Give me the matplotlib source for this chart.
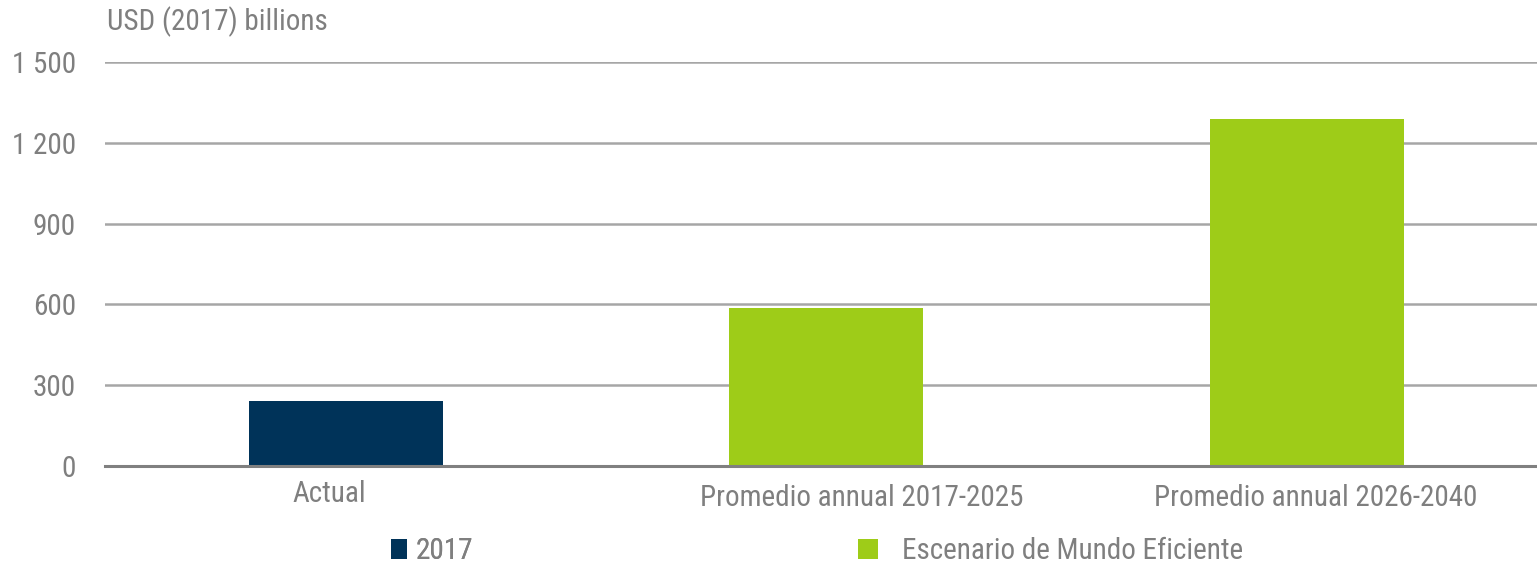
import matplotlib
matplotlib.use("Agg")
import matplotlib.pyplot as plt
import matplotlib.transforms as mtransforms
from matplotlib import font_manager
from matplotlib.patches import Patch

categories = ["Actual", "Promedio annual 2017-2025", "Promedio annual 2026-2040"]
values = [240, 585, 1287]
series = ["2017", "Escenario de Mundo Eficiente", "Escenario de Mundo Eficiente"]
yticks = [0, 300, 600, 900, 1200, 1500]

navy = "#003359"
green = "#9ecc18"
grey_text = "#7f7f7f"
bar_colors = [navy, green, green]

available = {f.name for f in font_manager.fontManager.ttflist}
font = "DejaVu Sans"
for name in ["Liberation Sans Narrow", "Roboto Condensed", "Liberation Sans"]:
    if name in available:
        font = name
        break
plt.rcParams["font.family"] = [font, "DejaVu Sans"]

W, H = 1537, 564
fig = plt.figure(figsize=(W / 100, H / 100), dpi=100)
ax = fig.add_axes([105 / W, (H - 466) / H, 1 - 105 / W, (466 - 62) / H])

x = list(range(len(categories)))
ax.bar(x, values, width=0.404, color=bar_colors, zorder=3)

ax.set_xlim(-0.5016, 2.479)
ax.set_ylim(0, 1500)
ax.set_yticks(yticks)
ax.set_yticklabels([f"{v:,}".replace(",", " ") for v in yticks])
ax.grid(axis="y", color="#a6a6a6", linewidth=1.8, zorder=0)
ax.set_axisbelow(True)
for s in ["top", "left", "right"]:
    ax.spines[s].set_visible(False)
ax.spines["bottom"].set_color("#808080")
ax.spines["bottom"].set_linewidth(2.2)
ax.spines["bottom"].set_zorder(4)

ax.tick_params(axis="y", length=0, pad=21, labelsize=21, labelcolor=grey_text)
ax.set_xticks(x)
ax.set_xticklabels(categories)
ax.tick_params(axis="x", length=0, pad=13, labelsize=21, labelcolor=grey_text)

# the category labels in the source are nudged off-centre
nudges = [(-17, 4), (35, 0), (9, 0)]
for lab, (dx, dy) in zip(ax.get_xticklabels(), nudges):
    lab.set_transform(lab.get_transform() +
                      mtransforms.ScaledTranslation(dx / 100, dy / 100, fig.dpi_scale_trans))

fig.text(107 / W, 1 - 22 / H, "USD (2017) billions", fontsize=21,
         color=grey_text, va="center", ha="left")

leg1 = fig.legend(handles=[Patch(facecolor=navy, label=series[0])],
                  loc="center left", bbox_to_anchor=(391 / W, 1 - 551 / H),
                  frameon=False, fontsize=21, labelcolor=grey_text,
                  handlelength=0.55, handleheight=0.7, handletextpad=0.3,
                  borderpad=0, borderaxespad=0)
fig.add_artist(leg1)
fig.legend(handles=[Patch(facecolor=green, label=series[1])],
           loc="center left", bbox_to_anchor=(858 / W, 1 - 551 / H),
           frameon=False, fontsize=21, labelcolor=grey_text,
           handlelength=0.7, handleheight=0.7, handletextpad=0.8,
           borderpad=0, borderaxespad=0)

fig.savefig("out.png", dpi=100)
